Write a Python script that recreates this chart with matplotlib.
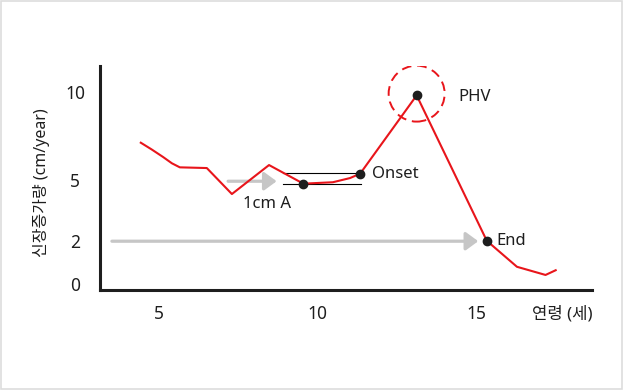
import numpy as np
import matplotlib.pyplot as plt
from matplotlib.patches import Circle, Rectangle
from matplotlib.transforms import ScaledTranslation

plt.rcParams['font.family'] = ['Noto Sans', 'Noto Sans CJK KR', 'DejaVu Sans']

# growth velocity curve (age in years, cm/year)
age = [4.44, 4.78, 5.14, 5.42, 5.67, 6.52, 7.31, 8.48, 9.56, 10.49, 11.03, 11.35, 13.13, 15.34, 16.29, 17.19, 17.51]
velocity = [7.12, 6.74, 6.31, 5.95, 5.72, 5.68, 4.31, 5.85, 4.82, 4.89, 5.11, 5.36, 9.81, 2.01, 0.80, 0.42, 0.64]

# marked points
mark_age = [9.56, 11.35, 13.13, 15.34]
mark_vel = [4.82, 5.36, 9.81, 2.01]

# 1cm band lines
band_start = 8.91
band_end = [11.36, 11.38]
band_vel = [5.42, 4.79]

x_ticks = [5, 10, 15]
y_ticks = [0, 2, 5, 10]

# schematic (uneven) y axis
knot_val = [-1, 0, 2, 5, 10, 12]
knot_pos = [-21.5, 0, 43, 104, 192, 227.2]


def fwd(v):
    return np.interp(v, knot_val, knot_pos)


def inv(u):
    return np.interp(u, knot_pos, knot_val)


fig = plt.figure(figsize=(6.25, 3.9), dpi=100)
ax = fig.add_axes([0.16, 0.2564, 0.947 - 0.16, 0.8308 - 0.2564])
ax.set_yscale('function', functions=(fwd, inv))
ax.set_xlim(3.155, 18.65)
ax.set_ylim(-0.28, 11.48)

red = '#e8151b'
dark = '#1e1e1e'
gray = '#c6c6c6'

# gray arrows
ax.annotate('', xy=(8.72, 4.94), xytext=(7.19, 4.94),
            arrowprops=dict(arrowstyle='-|>,head_length=0.75,head_width=0.55', color=gray,
                            lw=2.3, shrinkA=0, shrinkB=0, mutation_scale=10))
ax.annotate('', xy=(15.07, 1.99), xytext=(3.53, 1.99),
            arrowprops=dict(arrowstyle='-|>,head_length=0.75,head_width=0.55', color=gray,
                            lw=2.3, shrinkA=0, shrinkB=0, mutation_scale=10))

# band lines
for v, e in zip(band_vel, band_end):
    ax.plot([band_start, e], [v, v], color='black', lw=0.8)

ax.plot(age, velocity, color=red, lw=1.5, zorder=3)
ax.scatter(mark_age, mark_vel, s=36, color=dark, zorder=4)

# dashed circle around PHV
trans = fig.dpi_scale_trans + ScaledTranslation(mark_age[2], mark_vel[2] + 0.1, ax.transData)
ax.add_patch(Circle((0, 0), 0.28, transform=trans, fill=False, edgecolor=red,
                    lw=1.4, linestyle=(0, (5, 3)), zorder=3))

ax.text(11.72, 5.34, "Onset", fontsize=12, va='center', color=dark)
ax.text(14.43, 9.74, "PHV", fontsize=12, va='center', color=dark)
ax.text(15.65, 2.01, "End", fontsize=12, va='center', color=dark)
ax.text(8.43, 3.82, "1cm A", fontsize=12, va='center', ha='center', color=dark)

for s in ['top', 'right']:
    ax.spines[s].set_visible(False)
for s in ['left', 'bottom']:
    ax.spines[s].set_linewidth(2.2)
    ax.spines[s].set_color(dark)

ax.set_xticks(x_ticks)
ax.set_xticklabels([str(t) for t in x_ticks])
ax.set_yticks(y_ticks)
ax.set_yticklabels([str(t) for t in y_ticks])
ax.yaxis.set_minor_locator(plt.NullLocator())
ax.tick_params(axis='x', length=0, pad=11, labelsize=12.5, labelcolor=dark)
ax.tick_params(axis='y', length=0, pad=18, labelsize=12.5, labelcolor=dark)
for lab in ax.get_yticklabels():
    lab.set_horizontalalignment('center')

fig.text(592 / 625, 1 - 314 / 390, "연령 (세)", fontsize=12, ha='right', va='center', color=dark)
fig.text(42 / 625, 1 - 183 / 390, "신장증가량 (cm/year)", fontsize=11.5, rotation=90,
         ha='center', va='center', color=dark)

# light frame
fig.patches.append(Rectangle((0.5 / 625, 1 - 388.5 / 390), 621.5 / 625, 388 / 390,
                             transform=fig.transFigure, fill=False, edgecolor='#dddddd', lw=1.2))

fig.savefig('out.png', dpi=100)
